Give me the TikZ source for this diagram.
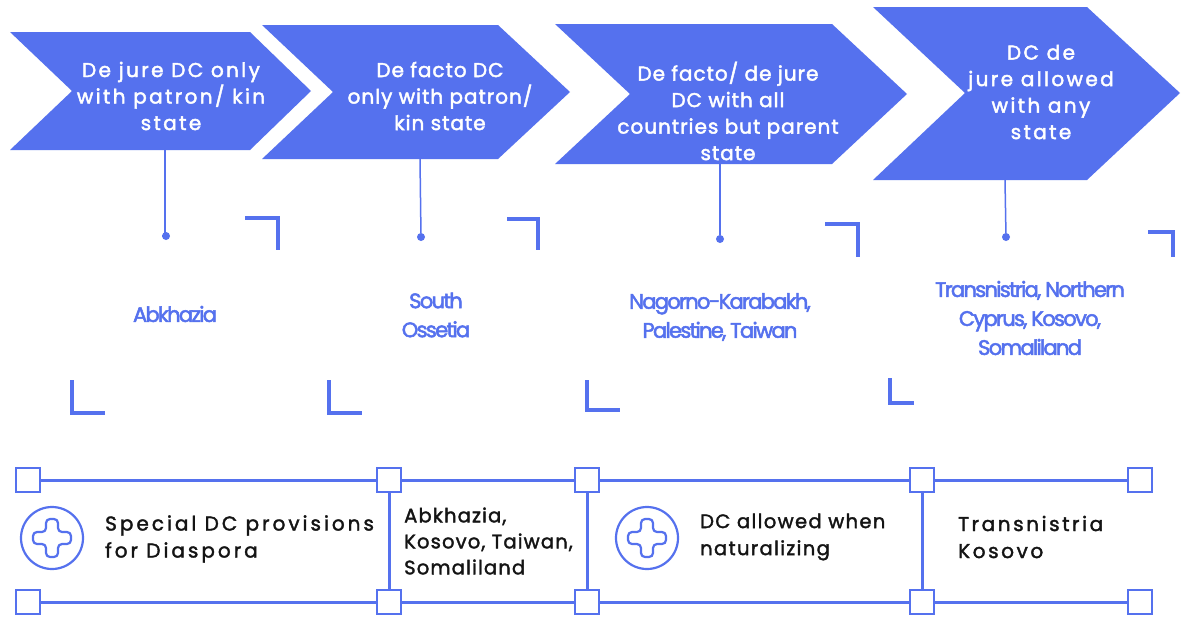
\documentclass[tikz,border=0pt]{standalone}
\usepackage{fontspec}
\setmainfont{Poppins}
\newfontfamily\chevwide[LetterSpace=12,FakeBold=2.2]{Poppins}
\newfontfamily\chevmid[LetterSpace=5,FakeBold=2.2]{Poppins}
\newfontfamily\countryfont[LetterSpace=-8,FakeBold=2.4]{Poppins}
\newfontfamily\widefont[LetterSpace=15,FakeBold=1.8]{Poppins}
\newfontfamily\xwidefont[LetterSpace=13,FakeBold=1.8]{Poppins}
\newfontfamily\midfont[LetterSpace=6,FakeBold=1.8]{Poppins}
\newfontfamily\tightfont[LetterSpace=7,FakeBold=1.8]{Poppins}
\definecolor{dcblue}{HTML}{5571EE}
\tikzset{
  chev/.style={fill=dcblue, draw=none},
  chevtext/.style={text=white, align=center, inner sep=0},
  country/.style={text=dcblue, align=center, inner sep=0, font=\countryfont\fontsize{21}{29}\selectfont},
  stem/.style={draw=dcblue, line width=1.5},
  dotmark/.style={circle, fill=dcblue, inner sep=0, minimum size=8},
  bracket/.style={draw=dcblue, line width=4, miter limit=10},
  rail/.style={draw=dcblue, line width=3},
  sq/.style={draw=dcblue, line width=2.8, fill=white, minimum size=24, inner sep=0},
  body/.style={text=black!92, align=left, inner sep=0, anchor=west},
  ring/.style={draw=dcblue, line width=2.2},
}
\begin{document}
\begin{tikzpicture}[x=1pt,y=-1pt]
\useasboundingbox[fill=white] (0,0) rectangle (1187,619);

% chevrons
\fill[chev] (10,32) -- (250,32) -- (311,91) -- (250,150) -- (10,150) -- (72,91) -- cycle;
\fill[chev] (262,25) -- (498,25) -- (570,92) -- (498,159) -- (262,159) -- (333,92) -- cycle;
\fill[chev] (555,24) -- (832,24) -- (907,94) -- (832,164) -- (555,164) -- (630,94) -- cycle;
\fill[chev] (873,7) -- (1087,7) -- (1180,93) -- (1087,180) -- (873,180) -- (965,93) -- cycle;

% chevron texts
\node[chevtext, font=\chevwide\fontsize{20}{26.5}\selectfont] (t1) at (171,96) {De jure DC only\\with patron/ kin\\state};
\node[chevtext, font=\chevmid\fontsize{20}{26.5}\selectfont] (t2) at (440,96) {De facto DC\\only with patron/\\kin state};
\node[chevtext, font=\chevmid\fontsize{20}{26.5}\selectfont] (t3) at (728,111) {De facto/ de jure\\DC with all\\countries but parent\\state};
\node[chevtext, font=\chevwide\fontsize{20}{26.5}\selectfont] (t4) at (1041,92) {DC de\\jure allowed\\with any\\state};

% stems
\coordinate (s1) at (165,150);
\coordinate (s2) at (420,159);
\coordinate (s3) at (720,156);
\coordinate (s4) at (1005,180);
\node[dotmark] (d1) at (166,236) {};
\node[dotmark] (d2) at (421,237) {};
\node[dotmark] (d3) at (720,239) {};
\node[dotmark] (d4) at (1006,237) {};
\draw[stem] (s1) -- (165,236) -- (d1);
\draw[stem] (s2) -- (d2);
\draw[stem] (s3) -- (d3);
\draw[stem] (s4) -- (d4);

% brackets top-right
\draw[bracket] (245,218) -- (278,218) -- (278,250);
\draw[bracket] (507,219) -- (538,219) -- (538,250);
\draw[bracket] (825,224) -- (858,224) -- (858,257);
\draw[bracket] (1148,232) -- (1173,232) -- (1173,257);
% brackets bottom-left
\draw[bracket] (72,380) -- (72,413) -- (105,413);
\draw[bracket] (329,380) -- (329,413) -- (362,413);
\draw[bracket] (587,380) -- (587,410) -- (620,410);
\draw[bracket] (890,378) -- (890,403) -- (914,403);

% country labels
\node[country] (c1) at (175,314) {Abkhazia};
\node[country] (c2) at (436,315) {South\\Ossetia};
\node[country] (c3) at (720,317) {Nagorno-Karabakh,\\Palestine, Taiwan};
\node[country] (c4) at (1030,318) {Transnistria, Northern\\Cyprus, Kosovo,\\Somaliland};

% bottom frame
\draw[rail] (389,480) -- (389,602);
\draw[rail] (587,480) -- (587,602);
\draw[rail] (922,480) -- (922,602);
\draw[rail] (28,480) -- (1140,480);
\draw[rail] (28,602) -- (1140,602);
\foreach \x/\n in {28/a,389/b,587/c,922/d,1140/e}{
  \node[sq] (top\n) at (\x,480) {};
  \node[sq] (bot\n) at (\x,602) {};
}

% plus icons
\foreach \cx/\n in {52/p1,647/p2}{
  \node[circle, ring, minimum size=62, inner sep=0] (\n) at (\cx,538) {};
  \draw[ring, rounded corners=4] (\cx-6,538-19) -- (\cx+6,538-19) -- (\cx+6,538-6) -- (\cx+19,538-6) -- (\cx+19,538+6) -- (\cx+6,538+6) -- (\cx+6,538+19) -- (\cx-6,538+19) -- (\cx-6,538+6) -- (\cx-19,538+6) -- (\cx-19,538-6) -- (\cx-6,538-6) -- cycle;
}

% bottom texts
\node[body, font=\widefont\fontsize{20}{27}\selectfont] (b1) at (105,539) {Special DC provisions\\for Diaspora};
\node[body, font=\midfont\fontsize{19.5}{26}\selectfont] (b2) at (404,541) {Abkhazia,\\Kosovo, Taiwan,\\Somaliland};
\node[body, font=\tightfont\fontsize{19.5}{27}\selectfont] (b3) at (700,537) {DC allowed when\\naturalizing};
\node[body, font=\xwidefont\fontsize{20}{27}\selectfont] (b4) at (958,537) {Transnistria\\Kosovo};
\end{tikzpicture}
\end{document}
